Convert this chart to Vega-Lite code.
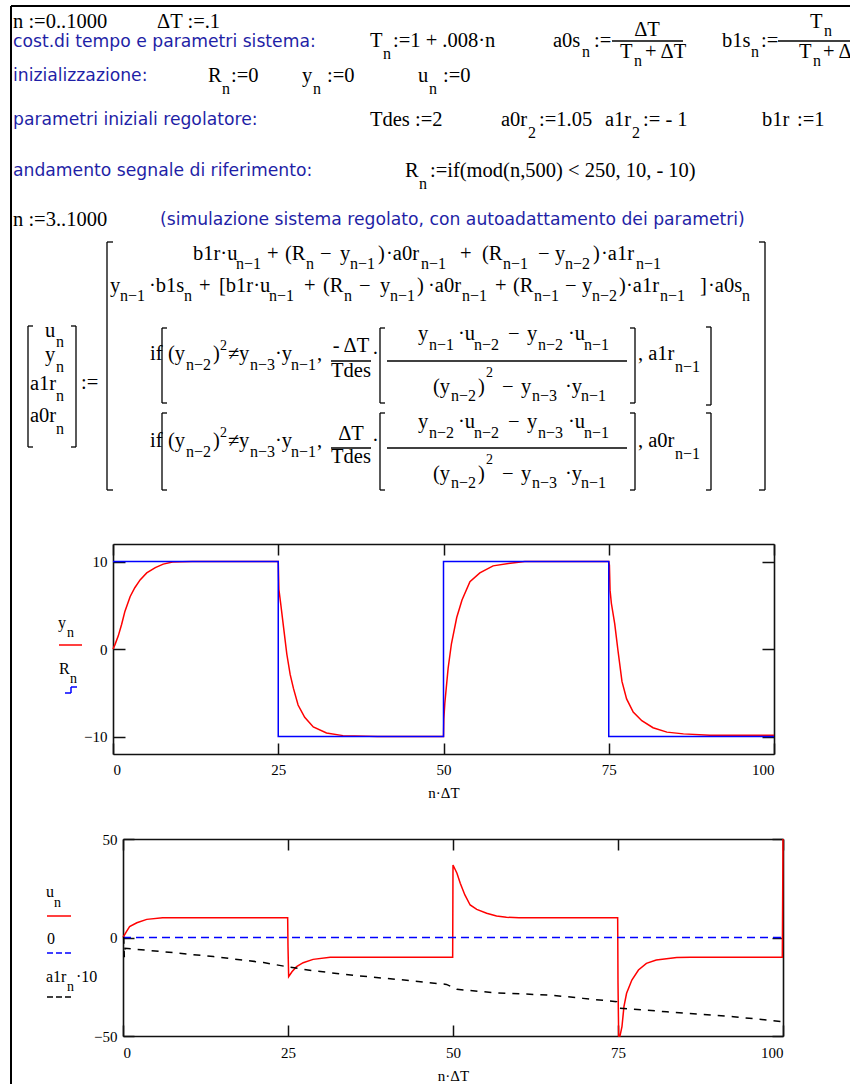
{
"$schema": "https://vega.github.io/schema/vega-lite/v6.json",
"width": 850, "height": 1084, "autosize": {"type": "none"}, "padding": 0, "background": "white",
"config": {"view": {"stroke": null},
 "axis": {"grid": false, "domainColor": "#111", "domainWidth": 1.6, "tickColor": "#111", "tickWidth": 1.5,
  "labelFont": "Liberation Serif", "labelFontSize": 15, "labelColor": "#000",
  "titleFont": "Liberation Serif", "titleFontSize": 15, "titleFontWeight": "normal", "titleColor": "#000"}},
"datasets": {
 "txt": [
  {"x":13,"y":28,"t":"n :=0..1000","r":"m"},{"x":157,"y":28,"t":"ΔT :=.1","r":"m"},
  {"x":13,"y":47,"t":"cost.di tempo e parametri sistema:","r":"lab"},
  {"x":370,"y":47,"t":"T","r":"m"},{"x":383,"y":59,"t":"n","r":"s"},{"x":393,"y":47,"t":":=1 + .008·n","r":"m"},
  {"x":553,"y":47,"t":"a0s","r":"m"},{"x":582,"y":57,"t":"n","r":"s"},{"x":594,"y":47,"t":":=","r":"m"},
  {"x":647,"y":36,"t":"ΔT","r":"mc"},{"x":620,"y":58,"t":"T","r":"m"},{"x":634,"y":66,"t":"n","r":"s"},{"x":645,"y":58,"t":"+ ΔT","r":"m"},
  {"x":722,"y":47,"t":"b1s","r":"m"},{"x":751,"y":57,"t":"n","r":"s"},{"x":761,"y":47,"t":":=","r":"m"},
  {"x":810,"y":28,"t":"T","r":"m"},{"x":824,"y":36,"t":"n","r":"s"},{"x":799,"y":58,"t":"T","r":"m"},{"x":813,"y":66,"t":"n","r":"s"},{"x":823,"y":58,"t":"+ ΔT","r":"m"},
  {"x":13,"y":81,"t":"inizializzazione:","r":"lab"},
  {"x":208,"y":82,"t":"R","r":"m"},{"x":222,"y":94,"t":"n","r":"s"},{"x":231,"y":82,"t":":=0","r":"m"},
  {"x":302,"y":82,"t":"y","r":"m"},{"x":313,"y":94,"t":"n","r":"s"},{"x":327,"y":82,"t":":=0","r":"m"},
  {"x":418,"y":82,"t":"u","r":"m"},{"x":429,"y":94,"t":"n","r":"s"},{"x":443,"y":82,"t":":=0","r":"m"},
  {"x":13,"y":125,"t":"parametri iniziali regolatore:","r":"lab"},
  {"x":370,"y":126,"t":"Tdes :=2","r":"m"},
  {"x":501,"y":126,"t":"a0r","r":"m"},{"x":528,"y":138,"t":"2","r":"s"},{"x":539,"y":126,"t":":=1.05","r":"m"},
  {"x":605,"y":126,"t":"a1r","r":"m"},{"x":632,"y":138,"t":"2","r":"s"},{"x":643,"y":126,"t":":= - 1","r":"m"},
  {"x":762,"y":126,"t":"b1r","r":"m"},{"x":797,"y":126,"t":":=1","r":"m"},
  {"x":13,"y":176,"t":"andamento segnale di riferimento:","r":"lab"},
  {"x":405,"y":177,"t":"R","r":"m"},{"x":419,"y":189,"t":"n","r":"s"},{"x":430,"y":177,"t":":=if(mod(n,500) < 250, 10, - 10)","r":"m"},
  {"x":13,"y":226,"t":"n :=3..1000","r":"m"},
  {"x":160,"y":225,"t":"(simulazione sistema regolato, con autoadattamento dei parametri)","r":"lab"},
  {"x":45,"y":337,"t":"u","r":"m"},{"x":56,"y":347,"t":"n","r":"s"},
  {"x":45,"y":361,"t":"y","r":"m"},{"x":56,"y":372,"t":"n","r":"s"},
  {"x":30,"y":390,"t":"a1r","r":"m"},{"x":56,"y":401,"t":"n","r":"s"},
  {"x":30,"y":422,"t":"a0r","r":"m"},{"x":56,"y":434,"t":"n","r":"s"},
  {"x":81,"y":389,"t":":=","r":"m"},
  {"x":193,"y":260,"t":"b1r·u","r":"m"},{"x":236,"y":269,"t":"n−1","r":"s"},{"x":267,"y":260,"t":"+","r":"m"},{"x":285,"y":260,"t":"(R","r":"m"},{"x":306,"y":269,"t":"n","r":"s"},{"x":320,"y":260,"t":"−","r":"m"},{"x":340,"y":260,"t":"y","r":"m"},{"x":350,"y":269,"t":"n−1","r":"s"},{"x":378,"y":260,"t":")","r":"m"},{"x":386,"y":260,"t":"·a0r","r":"m"},{"x":421,"y":269,"t":"n−1","r":"s"},{"x":460,"y":260,"t":"+","r":"m"},{"x":482,"y":260,"t":"(R","r":"m"},{"x":503,"y":269,"t":"n−1","r":"s"},{"x":538,"y":260,"t":"−","r":"m"},{"x":555,"y":260,"t":"y","r":"m"},{"x":565,"y":269,"t":"n−2","r":"s"},{"x":593,"y":260,"t":")","r":"m"},{"x":601,"y":260,"t":"·a1r","r":"m"},{"x":636,"y":269,"t":"n−1","r":"s"},
  {"x":110,"y":292,"t":"y","r":"m"},{"x":120,"y":301,"t":"n−1","r":"s"},{"x":149,"y":292,"t":"·b1s","r":"m"},{"x":184,"y":301,"t":"n","r":"s"},{"x":199,"y":292,"t":"+","r":"m"},{"x":219,"y":292,"t":"[b1r·u","r":"m"},{"x":269,"y":301,"t":"n−1","r":"s"},{"x":304,"y":292,"t":"+","r":"m"},{"x":323,"y":292,"t":"(R","r":"m"},{"x":344,"y":301,"t":"n","r":"s"},{"x":359,"y":292,"t":"−","r":"m"},{"x":380,"y":292,"t":"y","r":"m"},{"x":390,"y":301,"t":"n−1","r":"s"},{"x":417,"y":292,"t":")","r":"m"},{"x":428,"y":292,"t":"·a0r","r":"m"},{"x":462,"y":301,"t":"n−1","r":"s"},{"x":495,"y":292,"t":"+","r":"m"},{"x":513,"y":292,"t":"(R","r":"m"},{"x":534,"y":301,"t":"n−1","r":"s"},{"x":565,"y":292,"t":"−","r":"m"},{"x":582,"y":292,"t":"y","r":"m"},{"x":592,"y":301,"t":"n−2","r":"s"},{"x":619,"y":292,"t":")","r":"m"},{"x":626,"y":292,"t":"·a1r","r":"m"},{"x":660,"y":301,"t":"n−1","r":"s"},{"x":700,"y":292,"t":"]","r":"m"},{"x":708,"y":292,"t":"·a0s","r":"m"},{"x":742,"y":301,"t":"n","r":"s"},
  {"x":150,"y":360,"t":"if","r":"m"},{"x":168,"y":360,"t":"(y","r":"m"},{"x":186,"y":370,"t":"n−2","r":"s"},{"x":213,"y":360,"t":")","r":"m"},{"x":220,"y":350,"t":"2","r":"p"},{"x":228,"y":360,"t":"≠","r":"m"},{"x":239,"y":360,"t":"y","r":"m"},{"x":250,"y":370,"t":"n−3","r":"s"},{"x":275,"y":360,"t":"·y","r":"m"},{"x":291,"y":370,"t":"n−1","r":"s"},{"x":317,"y":360,"t":",","r":"m"},
  {"x":351,"y":352,"t":"- ΔT","r":"mc"},{"x":351,"y":377,"t":"Tdes","r":"mc"},{"x":372,"y":360,"t":"·","r":"m"},
  {"x":418,"y":340,"t":"y","r":"m"},{"x":429,"y":350,"t":"n−1","r":"s"},{"x":458,"y":340,"t":"·u","r":"m"},{"x":474,"y":350,"t":"n−2","r":"s"},{"x":508,"y":340,"t":"−","r":"m"},{"x":527,"y":340,"t":"y","r":"m"},{"x":538,"y":350,"t":"n−2","r":"s"},{"x":568,"y":340,"t":"·u","r":"m"},{"x":584,"y":350,"t":"n−1","r":"s"},
  {"x":433,"y":393,"t":"(y","r":"m"},{"x":451,"y":401,"t":"n−2","r":"s"},{"x":478,"y":393,"t":")","r":"m"},{"x":486,"y":377,"t":"2","r":"p"},{"x":502,"y":393,"t":"−","r":"m"},{"x":521,"y":393,"t":"y","r":"m"},{"x":532,"y":401,"t":"n−3","r":"s"},{"x":565,"y":393,"t":"·y","r":"m"},{"x":581,"y":401,"t":"n−1","r":"s"},
  {"x":638,"y":360,"t":", a1r","r":"m"},{"x":675,"y":372,"t":"n−1","r":"s"},
  {"x":150,"y":447,"t":"if","r":"m"},{"x":168,"y":447,"t":"(y","r":"m"},{"x":186,"y":457,"t":"n−2","r":"s"},{"x":213,"y":447,"t":")","r":"m"},{"x":220,"y":437,"t":"2","r":"p"},{"x":228,"y":447,"t":"≠","r":"m"},{"x":239,"y":447,"t":"y","r":"m"},{"x":250,"y":457,"t":"n−3","r":"s"},{"x":275,"y":447,"t":"·y","r":"m"},{"x":291,"y":457,"t":"n−1","r":"s"},{"x":317,"y":447,"t":",","r":"m"},
  {"x":351,"y":440,"t":"ΔT","r":"mc"},{"x":351,"y":463,"t":"Tdes","r":"mc"},{"x":372,"y":447,"t":"·","r":"m"},
  {"x":418,"y":428,"t":"y","r":"m"},{"x":429,"y":438,"t":"n−2","r":"s"},{"x":458,"y":428,"t":"·u","r":"m"},{"x":474,"y":438,"t":"n−2","r":"s"},{"x":508,"y":428,"t":"−","r":"m"},{"x":527,"y":428,"t":"y","r":"m"},{"x":538,"y":438,"t":"n−3","r":"s"},{"x":568,"y":428,"t":"·u","r":"m"},{"x":584,"y":438,"t":"n−1","r":"s"},
  {"x":433,"y":480,"t":"(y","r":"m"},{"x":451,"y":488,"t":"n−2","r":"s"},{"x":478,"y":480,"t":")","r":"m"},{"x":486,"y":464,"t":"2","r":"p"},{"x":502,"y":480,"t":"−","r":"m"},{"x":521,"y":480,"t":"y","r":"m"},{"x":532,"y":488,"t":"n−3","r":"s"},{"x":565,"y":480,"t":"·y","r":"m"},{"x":581,"y":488,"t":"n−1","r":"s"},
  {"x":638,"y":447,"t":", a0r","r":"m"},{"x":675,"y":459,"t":"n−1","r":"s"},
  {"x":58,"y":628,"t":"y","r":"lm"},{"x":67,"y":637,"t":"n","r":"ls"},
  {"x":59,"y":674,"t":"R","r":"lm"},{"x":70,"y":683,"t":"n","r":"ls"},
  {"x":46,"y":897,"t":"u","r":"lm"},{"x":54,"y":907,"t":"n","r":"ls"},
  {"x":47,"y":944,"t":"0","r":"lm"},
  {"x":46,"y":982,"t":"a1r","r":"lm"},{"x":67,"y":991,"t":"n","r":"ls"},{"x":76,"y":982,"t":"·10","r":"lm"}
 ],
 "ln": [
  {"x":11,"y":6,"x2":850,"y2":6,"r":"border"},{"x":11,"y":6,"x2":11,"y2":1084,"r":"border"},
  {"x":612,"y":41,"x2":683,"y2":41,"r":"k"},{"x":778,"y":41,"x2":850,"y2":41,"r":"k"},
  {"x":331,"y":361,"x2":371,"y2":361,"r":"k"},{"x":387,"y":361,"x2":627,"y2":361,"r":"k"},
  {"x":331,"y":448,"x2":371,"y2":448,"r":"k"},{"x":387,"y":448,"x2":627,"y2":448,"r":"k"},
  {"x":28,"y":326,"x2":28,"y2":447,"r":"k"},{"x":28,"y":326,"x2":33,"y2":326,"r":"k"},{"x":28,"y":447,"x2":33,"y2":447,"r":"k"},
  {"x":76,"y":326,"x2":76,"y2":447,"r":"k"},{"x":71,"y":326,"x2":76,"y2":326,"r":"k"},{"x":71,"y":447,"x2":76,"y2":447,"r":"k"},
  {"x":107,"y":242,"x2":107,"y2":490,"r":"k"},{"x":107,"y":242,"x2":113,"y2":242,"r":"k"},{"x":107,"y":490,"x2":113,"y2":490,"r":"k"},
  {"x":765,"y":242,"x2":765,"y2":490,"r":"k"},{"x":759,"y":242,"x2":765,"y2":242,"r":"k"},{"x":759,"y":490,"x2":765,"y2":490,"r":"k"},
  {"x":162,"y":328,"x2":162,"y2":403,"r":"k"},{"x":162,"y":328,"x2":167,"y2":328,"r":"k"},{"x":162,"y":403,"x2":167,"y2":403,"r":"k"},
  {"x":380,"y":328,"x2":380,"y2":403,"r":"k"},{"x":380,"y":328,"x2":385,"y2":328,"r":"k"},{"x":380,"y":403,"x2":385,"y2":403,"r":"k"},
  {"x":635,"y":328,"x2":635,"y2":403,"r":"k"},{"x":630,"y":328,"x2":635,"y2":328,"r":"k"},{"x":630,"y":403,"x2":635,"y2":403,"r":"k"},
  {"x":711,"y":327,"x2":711,"y2":405,"r":"k"},{"x":706,"y":327,"x2":711,"y2":327,"r":"k"},{"x":706,"y":405,"x2":711,"y2":405,"r":"k"},
  {"x":162,"y":413,"x2":162,"y2":490,"r":"k"},{"x":162,"y":413,"x2":167,"y2":413,"r":"k"},{"x":162,"y":490,"x2":167,"y2":490,"r":"k"},
  {"x":380,"y":413,"x2":380,"y2":490,"r":"k"},{"x":380,"y":413,"x2":385,"y2":413,"r":"k"},{"x":380,"y":490,"x2":385,"y2":490,"r":"k"},
  {"x":635,"y":413,"x2":635,"y2":490,"r":"k"},{"x":630,"y":413,"x2":635,"y2":413,"r":"k"},{"x":630,"y":490,"x2":635,"y2":490,"r":"k"},
  {"x":711,"y":413,"x2":711,"y2":490,"r":"k"},{"x":706,"y":413,"x2":711,"y2":413,"r":"k"},{"x":706,"y":490,"x2":711,"y2":490,"r":"k"},
  {"x":59,"y":645,"x2":82,"y2":645,"r":"red"},
  {"x":65,"y":693,"x2":71,"y2":693,"r":"blue"},{"x":71,"y":693,"x2":71,"y2":687,"r":"blue"},{"x":71,"y":687,"x2":77,"y2":687,"r":"blue"},
  {"x":47,"y":916,"x2":71,"y2":916,"r":"red"},
  {"x":47,"y":953,"x2":71,"y2":953,"r":"bdash"},
  {"x":47,"y":997,"x2":71,"y2":997,"r":"kdash"}
 ],
 "y1": [
  {"t":0,"v":0},{"t":0.3,"v":0.5},{"t":0.8,"v":1.5},{"t":1.3,"v":2.8},{"t":1.8,"v":4.3},{"t":2.6,"v":6.0},{"t":3.3,"v":7.0},{"t":4.1,"v":7.9},{"t":5.1,"v":8.7},{"t":6.4,"v":9.3},{"t":7.6,"v":9.7},{"t":9.0,"v":9.95},{"t":12,"v":10},{"t":25,"v":10},
  {"t":25.1,"v":6.8},{"t":25.4,"v":5.0},{"t":25.8,"v":2.5},{"t":26.3,"v":-0.6},{"t":26.8,"v":-2.9},{"t":27.3,"v":-4.5},{"t":28.0,"v":-6.4},{"t":29.0,"v":-7.8},{"t":30.3,"v":-8.9},{"t":32.3,"v":-9.6},{"t":34.8,"v":-9.9},{"t":40,"v":-10},{"t":50,"v":-10},
  {"t":50.05,"v":-8},{"t":50.2,"v":-6.2},{"t":50.7,"v":-2.2},{"t":51.2,"v":0.6},{"t":52.0,"v":3.6},{"t":52.8,"v":5.6},{"t":54.0,"v":7.7},{"t":55.5,"v":8.7},{"t":57.5,"v":9.5},{"t":60.1,"v":9.8},{"t":62.3,"v":10},{"t":75,"v":10},
  {"t":75.1,"v":9.6},{"t":75.2,"v":6.7},{"t":75.4,"v":5.2},{"t":75.9,"v":2.9},{"t":76.4,"v":-0.2},{"t":77.0,"v":-3.7},{"t":77.7,"v":-5.7},{"t":78.7,"v":-7.2},{"t":80.0,"v":-8.2},{"t":81.7,"v":-9.0},{"t":83.8,"v":-9.5},{"t":86.3,"v":-9.7},{"t":90.3,"v":-9.85},{"t":100,"v":-9.85}
 ],
 "R": [{"t":0,"v":10},{"t":25,"v":-10},{"t":50,"v":10},{"t":75,"v":-10},{"t":100,"v":-10}],
 "u": [
  {"t":0,"v":0},{"t":0.5,"v":2.9},{"t":1.0,"v":5.5},{"t":2.1,"v":7.5},{"t":3.6,"v":9.2},{"t":6.0,"v":10},{"t":24.95,"v":10},
  {"t":25,"v":-4.7},{"t":25.1,"v":-19.9},{"t":25.6,"v":-17.4},{"t":26.3,"v":-14.8},{"t":27.3,"v":-12.8},{"t":28.8,"v":-11.1},{"t":31.4,"v":-10},{"t":49.95,"v":-10},
  {"t":50,"v":36.8},{"t":50.6,"v":32.6},{"t":51.1,"v":27.5},{"t":51.8,"v":21.6},{"t":52.6,"v":16.5},{"t":53.6,"v":14.3},{"t":55.1,"v":12.3},{"t":56.6,"v":10.9},{"t":58.1,"v":10.3},{"t":60,"v":10},{"t":74.95,"v":10},
  {"t":75,"v":-23},{"t":75.1,"v":-58},{"t":75.3,"v":-52},{"t":75.6,"v":-45.3},{"t":75.9,"v":-35.1},{"t":76.3,"v":-28.3},{"t":77.1,"v":-21.6},{"t":78.1,"v":-16.5},{"t":79.3,"v":-13.1},{"t":80.8,"v":-11.4},{"t":83.9,"v":-10.1},{"t":86,"v":-10},{"t":99.9,"v":-10},{"t":100,"v":60}
 ],
 "zero": [{"t":0,"v":0},{"t":100,"v":0}],
 "a1r": [
  {"t":0,"v":0},{"t":0.1,"v":0},{"t":0.2,"v":-10},{"t":0.3,"v":-5.5},{"t":6.1,"v":-7.2},{"t":13.7,"v":-9.7},{"t":21.3,"v":-12.7},{"t":24.8,"v":-14.8},{"t":28.8,"v":-16.9},{"t":35.9,"v":-19.5},{"t":43.5,"v":-21.9},{"t":49.0,"v":-23.8},{"t":50.6,"v":-26.3},{"t":56.1,"v":-28},{"t":65,"v":-29.3},{"t":69.7,"v":-30.9},{"t":74.8,"v":-32.6},{"t":75.3,"v":-35.9},{"t":82.4,"v":-37.7},{"t":92.5,"v":-40.2},{"t":99.9,"v":-42.7}
 ]
},
"layer": [
 {"layer": [
  {"data": {"name": "ln"}, "transform": [{"filter": "datum.r === 'border'"}], "mark": {"type": "rule", "color": "#000", "strokeWidth": 2},
   "encoding": {"x": {"field": "x", "type": "quantitative", "scale": {"domain": [0, 850], "range": [0, 850], "nice": false, "zero": false}, "axis": null},
    "y": {"field": "y", "type": "quantitative", "scale": {"domain": [0, 1084], "range": [0, 1084], "nice": false, "zero": false}, "axis": null},
    "x2": {"field": "x2"}, "y2": {"field": "y2"}}},
  {"data": {"name": "ln"}, "transform": [{"filter": "datum.r === 'k'"}], "mark": {"type": "rule", "color": "#000", "strokeWidth": 1.3},
   "encoding": {"x": {"field": "x", "type": "quantitative"}, "y": {"field": "y", "type": "quantitative"}, "x2": {"field": "x2"}, "y2": {"field": "y2"}}},
  {"data": {"name": "ln"}, "transform": [{"filter": "datum.r === 'red'"}], "mark": {"type": "rule", "color": "#ff0000", "strokeWidth": 1.5},
   "encoding": {"x": {"field": "x", "type": "quantitative"}, "y": {"field": "y", "type": "quantitative"}, "x2": {"field": "x2"}, "y2": {"field": "y2"}}},
  {"data": {"name": "ln"}, "transform": [{"filter": "datum.r === 'blue'"}], "mark": {"type": "rule", "color": "#0000ff", "strokeWidth": 1.5},
   "encoding": {"x": {"field": "x", "type": "quantitative"}, "y": {"field": "y", "type": "quantitative"}, "x2": {"field": "x2"}, "y2": {"field": "y2"}}},
  {"data": {"name": "ln"}, "transform": [{"filter": "datum.r === 'bdash'"}], "mark": {"type": "rule", "color": "#0000ff", "strokeWidth": 1.5, "strokeDash": [6, 3]},
   "encoding": {"x": {"field": "x", "type": "quantitative"}, "y": {"field": "y", "type": "quantitative"}, "x2": {"field": "x2"}, "y2": {"field": "y2"}}},
  {"data": {"name": "ln"}, "transform": [{"filter": "datum.r === 'kdash'"}], "mark": {"type": "rule", "color": "#000", "strokeWidth": 1.5, "strokeDash": [6, 3]},
   "encoding": {"x": {"field": "x", "type": "quantitative"}, "y": {"field": "y", "type": "quantitative"}, "x2": {"field": "x2"}, "y2": {"field": "y2"}}},
  {"data": {"name": "txt"}, "transform": [{"filter": "datum.r === 'lab'"}], "mark": {"type": "text", "align": "left", "baseline": "alphabetic", "font": "DejaVu Sans", "fontSize": 17.2, "color": "#1f1fa6"},
   "encoding": {"x": {"field": "x", "type": "quantitative"}, "y": {"field": "y", "type": "quantitative"}, "text": {"field": "t"}}},
  {"data": {"name": "txt"}, "transform": [{"filter": "datum.r === 'm'"}], "mark": {"type": "text", "align": "left", "baseline": "alphabetic", "font": "Liberation Serif", "fontSize": 20.5, "color": "#000"},
   "encoding": {"x": {"field": "x", "type": "quantitative"}, "y": {"field": "y", "type": "quantitative"}, "text": {"field": "t"}}},
  {"data": {"name": "txt"}, "transform": [{"filter": "datum.r === 'mc'"}], "mark": {"type": "text", "align": "center", "baseline": "alphabetic", "font": "Liberation Serif", "fontSize": 20.5, "color": "#000"},
   "encoding": {"x": {"field": "x", "type": "quantitative"}, "y": {"field": "y", "type": "quantitative"}, "text": {"field": "t"}}},
  {"data": {"name": "txt"}, "transform": [{"filter": "datum.r === 's'"}], "mark": {"type": "text", "align": "left", "baseline": "alphabetic", "font": "Liberation Serif", "fontSize": 16, "color": "#000"},
   "encoding": {"x": {"field": "x", "type": "quantitative"}, "y": {"field": "y", "type": "quantitative"}, "text": {"field": "t"}}},
  {"data": {"name": "txt"}, "transform": [{"filter": "datum.r === 'p'"}], "mark": {"type": "text", "align": "left", "baseline": "alphabetic", "font": "Liberation Serif", "fontSize": 14, "color": "#000"},
   "encoding": {"x": {"field": "x", "type": "quantitative"}, "y": {"field": "y", "type": "quantitative"}, "text": {"field": "t"}}},
  {"data": {"name": "txt"}, "transform": [{"filter": "datum.r === 'lm'"}], "mark": {"type": "text", "align": "left", "baseline": "alphabetic", "font": "Liberation Serif", "fontSize": 16, "color": "#000"},
   "encoding": {"x": {"field": "x", "type": "quantitative"}, "y": {"field": "y", "type": "quantitative"}, "text": {"field": "t"}}},
  {"data": {"name": "txt"}, "transform": [{"filter": "datum.r === 'ls'"}], "mark": {"type": "text", "align": "left", "baseline": "alphabetic", "font": "Liberation Serif", "fontSize": 14, "color": "#000"},
   "encoding": {"x": {"field": "x", "type": "quantitative"}, "y": {"field": "y", "type": "quantitative"}, "text": {"field": "t"}}}
 ]},
 {"layer": [
  {"data": {"name": "y1"}, "mark": {"type": "line", "color": "#ff0000", "strokeWidth": 1.5},
   "encoding": {
    "x": {"field": "t", "type": "quantitative", "scale": {"domain": [0, 100], "range": [113, 774], "nice": false, "zero": false},
     "axis": {"orient": "bottom", "offset": -330, "values": [0, 25, 50, 75, 100], "tickSize": -11, "labelFlush": true, "labelPadding": 19, "title": "n·ΔT", "titlePadding": 8}},
    "y": {"field": "v", "type": "quantitative", "scale": {"domain": [-12, 12], "range": [754, 544], "nice": false, "zero": false, "clamp": true},
     "axis": {"orient": "left", "offset": -113, "values": [-10, 0, 10], "tickSize": -12, "labelPadding": 18, "title": null}}}},
  {"data": {"name": "R"}, "mark": {"type": "line", "color": "#0000ff", "strokeWidth": 1.5, "interpolate": "step-after"},
   "encoding": {
    "x": {"field": "t", "type": "quantitative", "axis": {"orient": "top", "offset": -544, "values": [0, 25, 50, 75, 100], "tickSize": -11, "labels": false, "title": null}},
    "y": {"field": "v", "type": "quantitative", "axis": {"orient": "right", "offset": -76, "values": [-10, 0, 10], "tickSize": -12, "labels": false, "title": null}}}}
 ], "resolve": {"axis": {"x": "independent", "y": "independent"}}},
 {"layer": [
  {"data": {"name": "u"}, "mark": {"type": "line", "color": "#ff0000", "strokeWidth": 1.5},
   "encoding": {
    "x": {"field": "t", "type": "quantitative", "scale": {"domain": [0, 100], "range": [123, 783], "nice": false, "zero": false},
     "axis": {"orient": "bottom", "offset": -48, "values": [0, 25, 50, 75, 100], "tickSize": -11, "labelFlush": true, "labelPadding": 20, "title": "n·ΔT", "titlePadding": 8}},
    "y": {"field": "v", "type": "quantitative", "scale": {"domain": [-50, 50], "range": [1036, 839], "nice": false, "zero": false, "clamp": true},
     "axis": {"orient": "left", "offset": -123, "values": [-50, 0, 50], "tickSize": -11, "labelPadding": 17, "title": null}}}},
  {"data": {"name": "zero"}, "mark": {"type": "line", "color": "#0000ff", "strokeWidth": 1.5, "strokeDash": [8, 5]},
   "encoding": {
    "x": {"field": "t", "type": "quantitative", "axis": {"orient": "top", "offset": -839, "values": [0, 25, 50, 75, 100], "tickSize": -11, "labels": false, "title": null}},
    "y": {"field": "v", "type": "quantitative", "axis": {"orient": "right", "offset": -67, "values": [-50, 0, 50], "tickSize": -11, "labels": false, "title": null}}}},
  {"data": {"name": "a1r"}, "mark": {"type": "line", "color": "#000", "strokeWidth": 1.5, "strokeDash": [7, 7]},
   "encoding": {
    "x": {"field": "t", "type": "quantitative", "axis": null},
    "y": {"field": "v", "type": "quantitative", "axis": null}}}
 ], "resolve": {"axis": {"x": "independent", "y": "independent"}}}
],
"resolve": {"scale": {"x": "independent", "y": "independent"}, "axis": {"x": "independent", "y": "independent"}}
}
